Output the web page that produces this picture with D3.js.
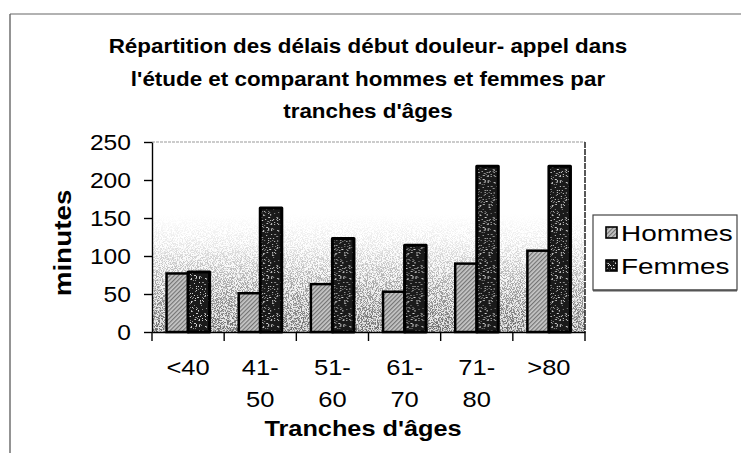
<!DOCTYPE html>
<html><head><meta charset="utf-8">
<script src="https://cdn.jsdelivr.net/npm/d3@7/dist/d3.min.js"></script>
<style>html,body{margin:0;padding:0;background:#fff;}svg{display:block;}</style>
</head><body>
<svg id="chart" width="741" height="453"></svg>
<script>
const categories = ["<40", "41-50", "51-60", "61-70", "71-80", ">80"];
const seriesNames = ["Hommes", "Femmes"];
const hommes = [77, 51, 63, 53, 90, 107];
const femmes = [79, 163, 123, 114, 218, 218];
const yTicks = [0, 50, 100, 150, 200, 250];
const titleLines = ["Répartition des délais début douleur- appel dans", "l'étude et comparant hommes et femmes par", "tranches d'âges"];
const xTitle = "Tranches d'âges";
const yTitle = "minutes";

const svg = d3.select("#chart");
const FONT = "'Liberation Sans', Arial, sans-serif";
const plot = {l: 152, r: 585, t: 142, b: 332};

const defs = svg.append("defs");
// hatch pattern for Hommes
const hp = defs.append("pattern").attr("id", "hatch").attr("patternUnits", "userSpaceOnUse")
  .attr("width", 3).attr("height", 3).attr("patternTransform", "rotate(45)");
hp.append("rect").attr("width", 3).attr("height", 3).attr("fill", "#c8c8c8");
hp.append("rect").attr("width", 1.2).attr("height", 3).attr("fill", "#747474");
// speckle texture pattern for Femmes (deterministic texture, not data)
const PS = 48;
const sp = defs.append("pattern").attr("id", "speckPat").attr("patternUnits", "userSpaceOnUse")
  .attr("width", PS).attr("height", PS);
sp.append("rect").attr("width", PS).attr("height", PS).attr("fill", "#1a1a1a");
let seed = 12345;
const lcg = () => (seed = (seed * 1103515245 + 12345) % 2147483648) / 2147483648;
const speckG = sp.append("g");
for (let k = 0; k < 330; k++) {
  const sx = Math.floor(lcg() * PS), sy = Math.floor(lcg() * PS), sh = lcg();
  speckG.append("rect").attr("x", sx).attr("y", sy).attr("width", 1).attr("height", 1)
    .attr("fill", sh > 0.5 ? "#d0d0d0" : "#8a8a8a");
}
// background noise
const nf = defs.append("filter").attr("id", "bgnoise").attr("x", 0).attr("y", 0).attr("width", "100%").attr("height", "100%");
nf.append("feTurbulence").attr("type", "fractalNoise").attr("baseFrequency", 1.2).attr("numOctaves", 2).attr("seed", 3).attr("result", "t");
nf.append("feColorMatrix").attr("in", "t").attr("type", "matrix")
  .attr("values", "0 0 0 0 0.15  0 0 0 0 0.15  0 0 0 0 0.15  7 0 0 0 -3.1");
const mg = defs.append("linearGradient").attr("id", "mgrad").attr("x1", 0).attr("y1", 1).attr("x2", 0).attr("y2", 0);
mg.append("stop").attr("offset", 0).attr("stop-color", "#fff");
mg.append("stop").attr("offset", 0.22).attr("stop-color", "#a0a0a0");
mg.append("stop").attr("offset", 0.45).attr("stop-color", "#2a2a2a");
mg.append("stop").attr("offset", 0.62).attr("stop-color", "#000");
defs.append("mask").attr("id", "bgmask").attr("maskUnits", "userSpaceOnUse")
  .append("rect").attr("x", plot.l).attr("y", plot.t).attr("width", plot.r - plot.l).attr("height", plot.b - plot.t).attr("fill", "url(#mgrad)");
const bg = defs.append("linearGradient").attr("id", "bggrad").attr("x1", 0).attr("y1", 1).attr("x2", 0).attr("y2", 0);
bg.append("stop").attr("offset", 0).attr("stop-color", "#e2e2e2");
bg.append("stop").attr("offset", 0.3).attr("stop-color", "#f8f8f8");
bg.append("stop").attr("offset", 0.5).attr("stop-color", "#fff");

// outer frame
svg.append("line").attr("x1", 10).attr("y1", 14).attr("x2", 741).attr("y2", 14).attr("stroke", "#666").attr("stroke-width", 1.2);
svg.append("line").attr("x1", 10).attr("y1", 14).attr("x2", 10).attr("y2", 453).attr("stroke", "#666").attr("stroke-width", 1.4);

function stext(x, y, txt, size, weight, anchor, sx, rot) {
  const g = svg.append("g").attr("transform", `translate(${x},${y}) rotate(${rot || 0}) scale(${sx},1)`);
  return g.append("text").attr("font-family", FONT).attr("font-size", size).attr("font-weight", weight || "normal")
    .attr("text-anchor", anchor || "middle").attr("fill", "#000").text(txt);
}

// title
titleLines.forEach((t, i) => stext(368, 53 + i * 32.5, t, 20, "bold", "middle", 1.12));

// scales
const x = d3.scaleBand().domain(categories).range([plot.l, plot.r]).padding(0);
const x1 = d3.scaleBand().domain(seriesNames).range([0, x.bandwidth()]).paddingInner(0).paddingOuter(0.675);
const y = d3.scaleLinear().domain([0, 250]).range([plot.b, plot.t]);

// plot background
svg.append("rect").attr("x", plot.l).attr("y", plot.t).attr("width", plot.r - plot.l).attr("height", plot.b - plot.t).attr("fill", "url(#bggrad)");
svg.append("rect").attr("x", plot.l).attr("y", plot.t).attr("width", plot.r - plot.l).attr("height", plot.b - plot.t)
  .attr("filter", "url(#bgnoise)").attr("mask", "url(#bgmask)");
svg.append("line").attr("x1", plot.l).attr("x2", plot.r).attr("y1", plot.t).attr("y2", plot.t)
  .attr("stroke", "#999").attr("stroke-width", 1).attr("stroke-dasharray", "3,1");
svg.append("line").attr("x1", plot.r).attr("x2", plot.r).attr("y1", plot.t).attr("y2", plot.b)
  .attr("stroke", "#222").attr("stroke-width", 1.5).attr("stroke-dasharray", "6,1");

// bars
const data = categories.map((c, i) => ({c, Hommes: hommes[i], Femmes: femmes[i]}));
const groups = svg.append("g").selectAll("g").data(data).join("g").attr("transform", d => `translate(${x(d.c)},0)`);
groups.append("rect").attr("x", x1("Hommes")).attr("width", x1.bandwidth())
  .attr("y", d => y(d.Hommes)).attr("height", d => y(0) - y(d.Hommes))
  .attr("fill", "url(#hatch)").attr("stroke", "#000").attr("stroke-width", 2.5);
groups.append("rect").attr("x", x1("Femmes")).attr("width", x1.bandwidth())
  .attr("y", d => y(d.Femmes)).attr("height", d => y(0) - y(d.Femmes))
  .attr("fill", "url(#speckPat)").attr("stroke", "#000").attr("stroke-width", 3).attr("stroke-linejoin", "round");

// axes
const yAxis = svg.append("g").attr("transform", `translate(${plot.l},0)`)
  .call(d3.axisLeft(y).tickValues(yTicks).tickSize(8).tickSizeOuter(0).tickFormat(""));
yAxis.selectAll("path,line").attr("stroke", "#000").attr("stroke-width", 1.4);
yTicks.forEach(v => stext(131, y(v) + 8, String(v), 22, "normal", "end", 1.12));

const xAxis = svg.append("g").attr("transform", `translate(0,${plot.b})`)
  .call(d3.axisBottom(x).tickSize(0).tickFormat(""));
xAxis.select("path").attr("stroke", "#000").attr("stroke-width", 1.5);
const bounds = categories.map(c => x(c)).concat([x(categories[categories.length - 1]) + x.bandwidth()]);
svg.append("g").selectAll("line").data(bounds).join("line")
  .attr("x1", d => d).attr("x2", d => d).attr("y1", plot.b).attr("y2", plot.b + 9)
  .attr("stroke", "#000").attr("stroke-width", 1.4);

categories.forEach(c => {
  const cx = x(c) + x.bandwidth() / 2;
  const parts = c.includes("-") ? [c.split("-")[0] + "-", c.split("-")[1]] : [c];
  parts.forEach((p, j) => stext(cx, 375 + j * 31.5, p, 22, "normal", "middle", 1.16));
});

stext(363, 436, xTitle, 22, "bold", "middle", 1.15);
stext(71, 243, yTitle, 24, "bold", "middle", 1.16, -90);

// legend
svg.append("rect").attr("x", 593).attr("y", 215).attr("width", 144).attr("height", 75)
  .attr("fill", "#fff").attr("stroke", "#444").attr("stroke-width", 1.2);
svg.append("line").attr("x1", 593).attr("x2", 737).attr("y1", 290.5).attr("y2", 290.5).attr("stroke", "#555").attr("stroke-width", 2);
seriesNames.forEach((s, i) => {
  const yy = 227 + i * 33;
  svg.append("rect").attr("x", 606).attr("y", yy).attr("width", 11).attr("height", 11)
    .attr("fill", s === "Hommes" ? "url(#hatch)" : "url(#speckPat)").attr("stroke", "#000").attr("stroke-width", 1.6);
  stext(621, yy + 13.5, s, 22, "normal", "start", 1.27);
});
</script>
</body></html>
